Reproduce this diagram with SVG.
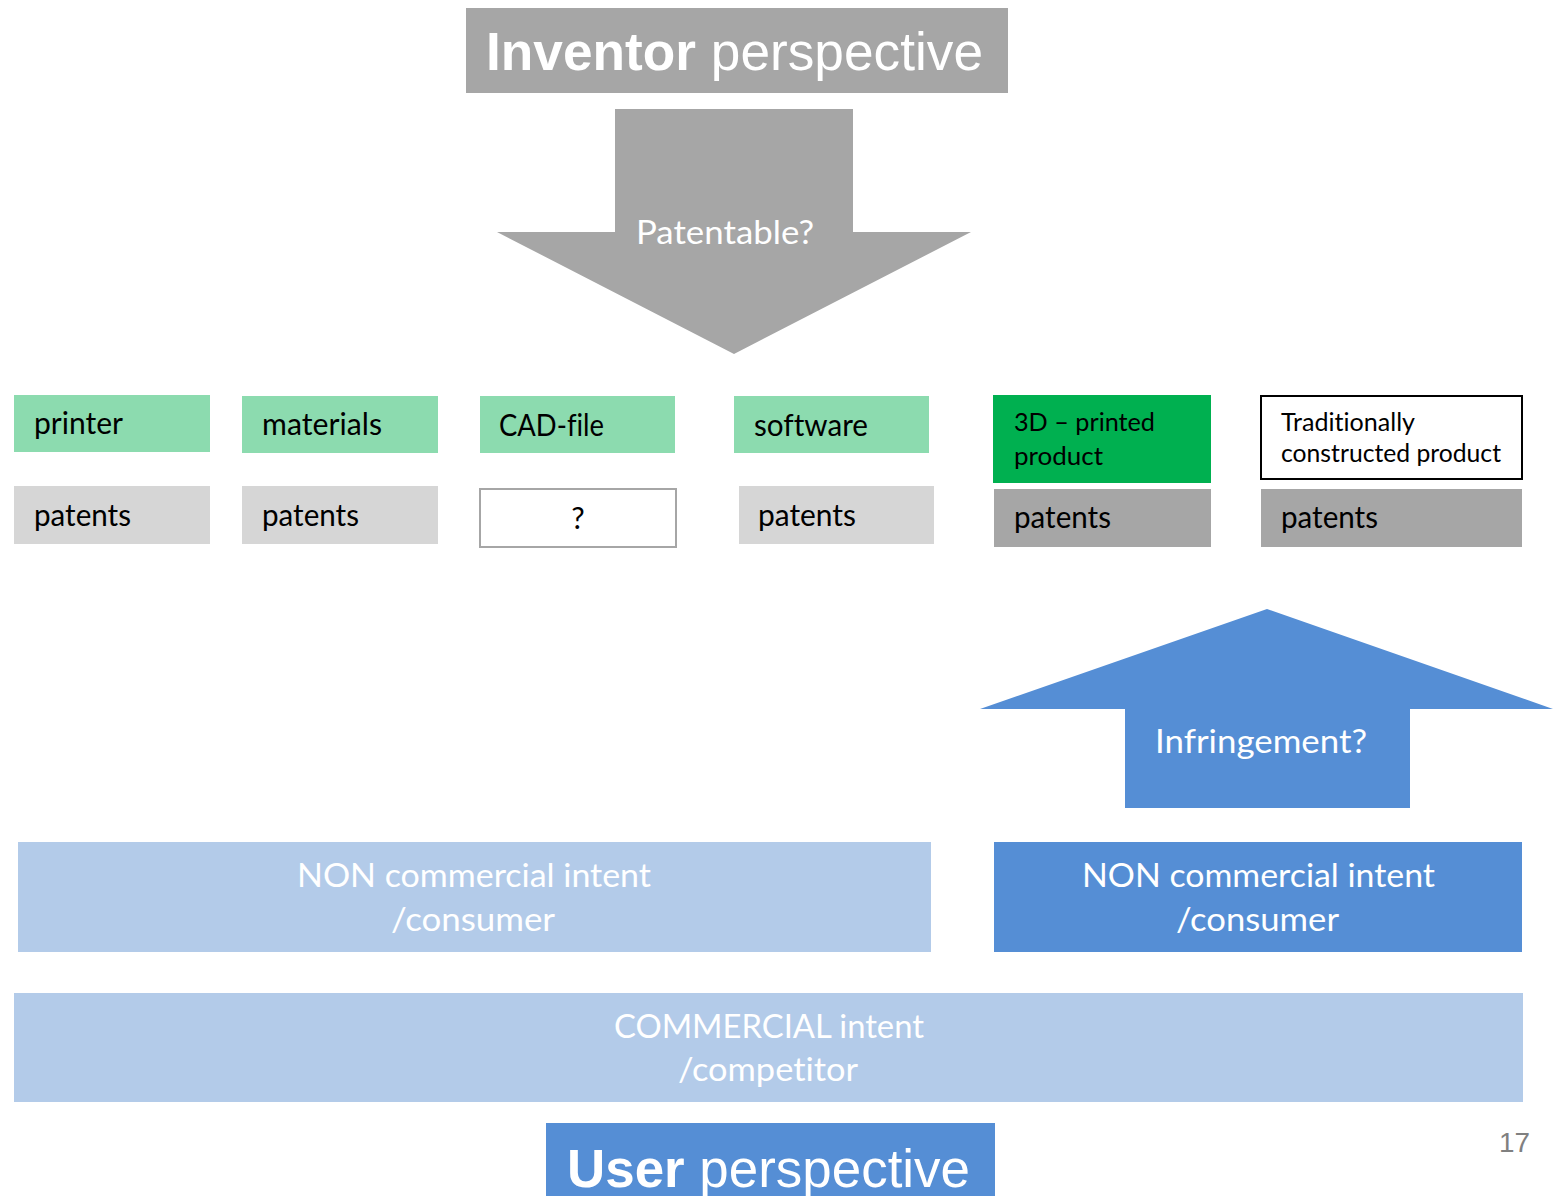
<svg xmlns="http://www.w3.org/2000/svg" width="1553" height="1196" viewBox="0 0 1553 1196">
  <style>
    .lbl { font-family: Lato, "Open Sans", "Noto Sans", sans-serif; fill: #000; font-variant-ligatures: none; }
    .big { font-family: Lato, "Open Sans", "Noto Sans", sans-serif; fill: #fff; font-size: 33px; font-variant-ligatures: none; }
    .head { font-family: "Liberation Sans", Arial, sans-serif; fill: #fff; }
    .head .b { font-weight: bold; }
    .mint { fill: #8cdbaf; }
    .lgray { fill: #d6d6d6; }
    .gray { fill: #a6a6a6; }
    .blue { fill: #558ed5; }
    .lblue { fill: #b3cbe9; }
  </style>

  <rect width="1553" height="1196" fill="#fff"/>

  <!-- heading: inventor side -->
  <g id="inventor-perspective">
    <rect class="gray" x="466" y="8" width="542" height="85"/>
    <text class="head" x="486" y="70" font-size="53" textLength="497" lengthAdjust="spacingAndGlyphs"><tspan class="b">Inventor</tspan> perspective</text>
  </g>

  <!-- block arrows -->
  <g id="connectors">
    <g id="patentable-arrow">
      <polygon class="gray" points="615,109 853,109 853,232 971,232 734,354 497,232 615,232"/>
      <text class="big" x="636" y="244" textLength="178" lengthAdjust="spacingAndGlyphs">Patentable?</text>
    </g>
    <g id="infringement-arrow">
      <polygon class="blue" points="1267,609 1553,709 1410,709 1410,808 1125,808 1125,709 980,709"/>
      <text class="big" x="1155" y="753" textLength="212" lengthAdjust="spacingAndGlyphs">Infringement?</text>
    </g>
  </g>

  <!-- top row: subject matter -->
  <g id="printer">
    <rect class="mint" x="14" y="395" width="196" height="57"/>
    <text class="lbl" x="34" y="434" font-size="30" textLength="89" lengthAdjust="spacingAndGlyphs">printer</text>
  </g>
  <g id="materials">
    <rect class="mint" x="242" y="396" width="196" height="57"/>
    <text class="lbl" x="262" y="435" font-size="30" textLength="120" lengthAdjust="spacingAndGlyphs">materials</text>
  </g>
  <g id="cad-file">
    <rect class="mint" x="480" y="396" width="195" height="57"/>
    <text class="lbl" x="499" y="436" font-size="30" textLength="105" lengthAdjust="spacingAndGlyphs">CAD-file</text>
  </g>
  <g id="software">
    <rect class="mint" x="734" y="396" width="195" height="57"/>
    <text class="lbl" x="754" y="436" font-size="30" textLength="114" lengthAdjust="spacingAndGlyphs">software</text>
  </g>
  <g id="printed-product">
    <rect x="993" y="395" width="218" height="88" fill="#00b050"/>
    <text class="lbl" x="1014" y="431" font-size="25" textLength="141" lengthAdjust="spacingAndGlyphs">3D – printed</text>
    <text class="lbl" x="1014" y="465" font-size="25" textLength="89" lengthAdjust="spacingAndGlyphs">product</text>
  </g>
  <g id="traditional-product">
    <rect x="1261" y="396" width="261" height="83" fill="#fff" stroke="#000" stroke-width="2"/>
    <text class="lbl" x="1281" y="431" font-size="25" textLength="134" lengthAdjust="spacingAndGlyphs">Traditionally</text>
    <text class="lbl" x="1281" y="462" font-size="25" textLength="220" lengthAdjust="spacingAndGlyphs">constructed product</text>
  </g>

  <!-- second row: protection -->
  <g id="printer-patents">
    <rect class="lgray" x="14" y="486" width="196" height="58"/>
    <text class="lbl" x="34" y="526" font-size="30" textLength="97" lengthAdjust="spacingAndGlyphs">patents</text>
  </g>
  <g id="materials-patents">
    <rect class="lgray" x="242" y="486" width="196" height="58"/>
    <text class="lbl" x="262" y="526" font-size="30" textLength="97" lengthAdjust="spacingAndGlyphs">patents</text>
  </g>
  <g id="cad-file-protection">
    <rect x="480" y="489" width="196" height="58" fill="#fff" stroke="#a6a6a6" stroke-width="2"/>
    <text class="lbl" x="578" y="529" font-size="30" text-anchor="middle">?</text>
  </g>
  <g id="software-patents">
    <rect class="lgray" x="739" y="486" width="195" height="58"/>
    <text class="lbl" x="758" y="526" font-size="30" textLength="98" lengthAdjust="spacingAndGlyphs">patents</text>
  </g>
  <g id="printed-product-patents">
    <rect class="gray" x="994" y="489" width="217" height="58"/>
    <text class="lbl" x="1014" y="528" font-size="30" textLength="97" lengthAdjust="spacingAndGlyphs">patents</text>
  </g>
  <g id="traditional-product-patents">
    <rect class="gray" x="1261" y="489" width="261" height="58"/>
    <text class="lbl" x="1281" y="528" font-size="30" textLength="97" lengthAdjust="spacingAndGlyphs">patents</text>
  </g>

  <!-- user categories -->
  <g id="non-commercial-left">
    <rect class="lblue" x="18" y="842" width="913" height="110"/>
    <text class="big" x="297" y="887" textLength="354" lengthAdjust="spacingAndGlyphs">NON commercial intent</text>
    <text class="big" x="391" y="931" textLength="164" lengthAdjust="spacingAndGlyphs">/consumer</text>
  </g>
  <g id="non-commercial-right">
    <rect class="blue" x="994" y="842" width="528" height="110"/>
    <text class="big" x="1082" y="887" textLength="353" lengthAdjust="spacingAndGlyphs">NON commercial intent</text>
    <text class="big" x="1176" y="931" textLength="163" lengthAdjust="spacingAndGlyphs">/consumer</text>
  </g>
  <g id="commercial">
    <rect class="lblue" x="14" y="993" width="1509" height="109"/>
    <text class="big" x="614" y="1038" textLength="310" lengthAdjust="spacingAndGlyphs">COMMERCIAL intent</text>
    <text class="big" x="678" y="1081" textLength="180" lengthAdjust="spacingAndGlyphs">/competitor</text>
  </g>

  <!-- heading: user side (runs off the bottom edge of the page) -->
  <g id="user-perspective">
    <rect class="blue" x="546" y="1123" width="449" height="73"/>
    <text class="head" x="567" y="1187" font-size="54" textLength="403" lengthAdjust="spacingAndGlyphs"><tspan class="b">User</tspan> perspective</text>
  </g>

  <g id="page-number">
    <text x="1499" y="1152" font-family="'Liberation Sans', Arial, sans-serif" font-size="27" fill="#808080" textLength="31" lengthAdjust="spacingAndGlyphs">17</text>
  </g>
</svg>
